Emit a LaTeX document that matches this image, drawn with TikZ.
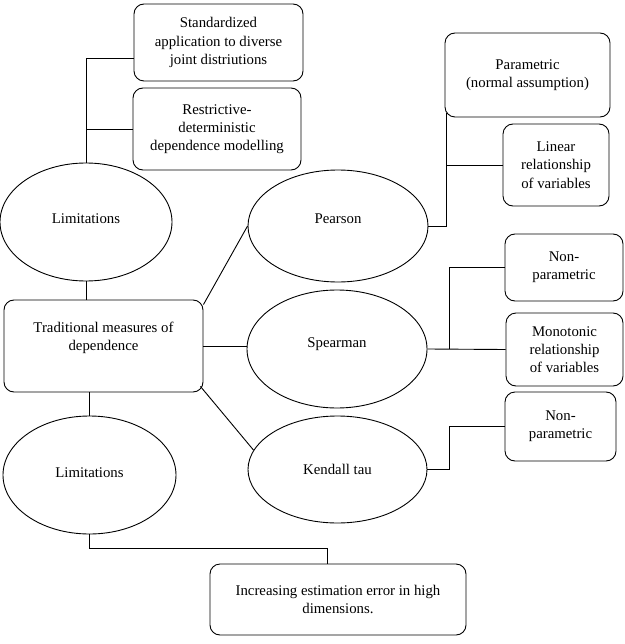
\documentclass[tikz,border=0pt]{standalone}
\usepackage{fontspec}
\setmainfont{Liberation Serif}
\usetikzlibrary{shapes.geometric}

\begin{document}
\begin{tikzpicture}[x=1pt, y=-1pt, line width=0.9pt,
  font=\fontsize{14.8}{18.3}\selectfont,
  box/.style={draw, rounded corners=10pt, align=center, inner sep=2pt},
  oval/.style={draw, ellipse, inner sep=0pt, align=center}]
  \useasboundingbox (0,0) rectangle (624,644);

  % Left column: limitations around the central box
  \node[box, minimum width=169pt, minimum height=77pt] (std) at (218.5, 42.5) {Standardized\\application to diverse\\joint distriutions};
  \node[box, minimum width=168pt, minimum height=82pt] (restr) at (217, 129) {Restrictive-\\deterministic\\dependence modelling};
  \node[oval, minimum width=172pt, minimum height=118pt, text depth=7pt] (lim1) at (86, 222) {Limitations};
  \node[box, minimum width=199pt, minimum height=92pt] (trad) at (103.5, 346) {Traditional measures of\\dependence\\[1pt]\mbox{}};
  \node[oval, minimum width=173pt, minimum height=118pt, text depth=4pt] (lim2) at (89.5, 475) {Limitations};
  \node[box, minimum width=256pt, minimum height=71pt] (incr) at (338, 599.5) {Increasing estimation error in high\\dimensions.};

  % Middle column: the three measures
  \node[oval, minimum width=180pt, minimum height=112pt, text depth=14pt] (pear) at (338, 226) {Pearson};
  \node[oval, minimum width=180pt, minimum height=118pt, text depth=12pt] (spear) at (337, 349) {Spearman};
  \node[oval, minimum width=179pt, minimum height=107pt] (kend) at (337.5, 469.5) {Kendall tau};

  % Right column: properties
  \node[box, minimum width=165pt, minimum height=84pt] (para) at (527.5, 75) {Parametric\\(normal assumption)};
  \node[box, minimum width=106pt, minimum height=82pt] (lin) at (556, 165) {Linear\\relationship\\of variables};
  \node[box, minimum width=118pt, minimum height=67pt] (np1) at (564, 267.5) {Non-\\parametric};
  \node[box, minimum width=117pt, minimum height=73pt] (mono) at (564.5, 349.5) {Monotonic\\relationship\\of variables};
  \node[box, minimum width=111pt, minimum height=69pt] (np2) at (560.5, 426.5) {Non-\\parametric};

  % Connectors
  \draw (lim1.north) |- ([yshift=-16pt]std.west);
  \draw (lim1.north |- restr.west) -- (restr.west);
  \draw (lim1.south) -- (lim1.south |- trad.north);
  \draw (lim2.north) -- (lim2.north |- trad.south);
  \draw (lim2.south) -- ++(0, 14) -| ([xshift=-11pt]incr.north);

  \draw ([yshift=-5pt]trad.north east) -- (pear.west);
  \draw (trad.east) -- (trad.east -| spear.west);
  \draw ([xshift=-3pt, yshift=6pt]trad.south east) -- (kend.167);

  \draw (pear.east) -| ([xshift=2pt, yshift=4pt]para.south west);
  \draw (lin.west) -- ([xshift=2pt]lin.west -| para.west);
  \draw (spear.east) -- (mono.west);
  \draw ([xshift=22pt]spear.east) |- (np1.west);
  \draw (kend.east) -- ++(22, 0) |- (np2.west);
\end{tikzpicture}
\end{document}
